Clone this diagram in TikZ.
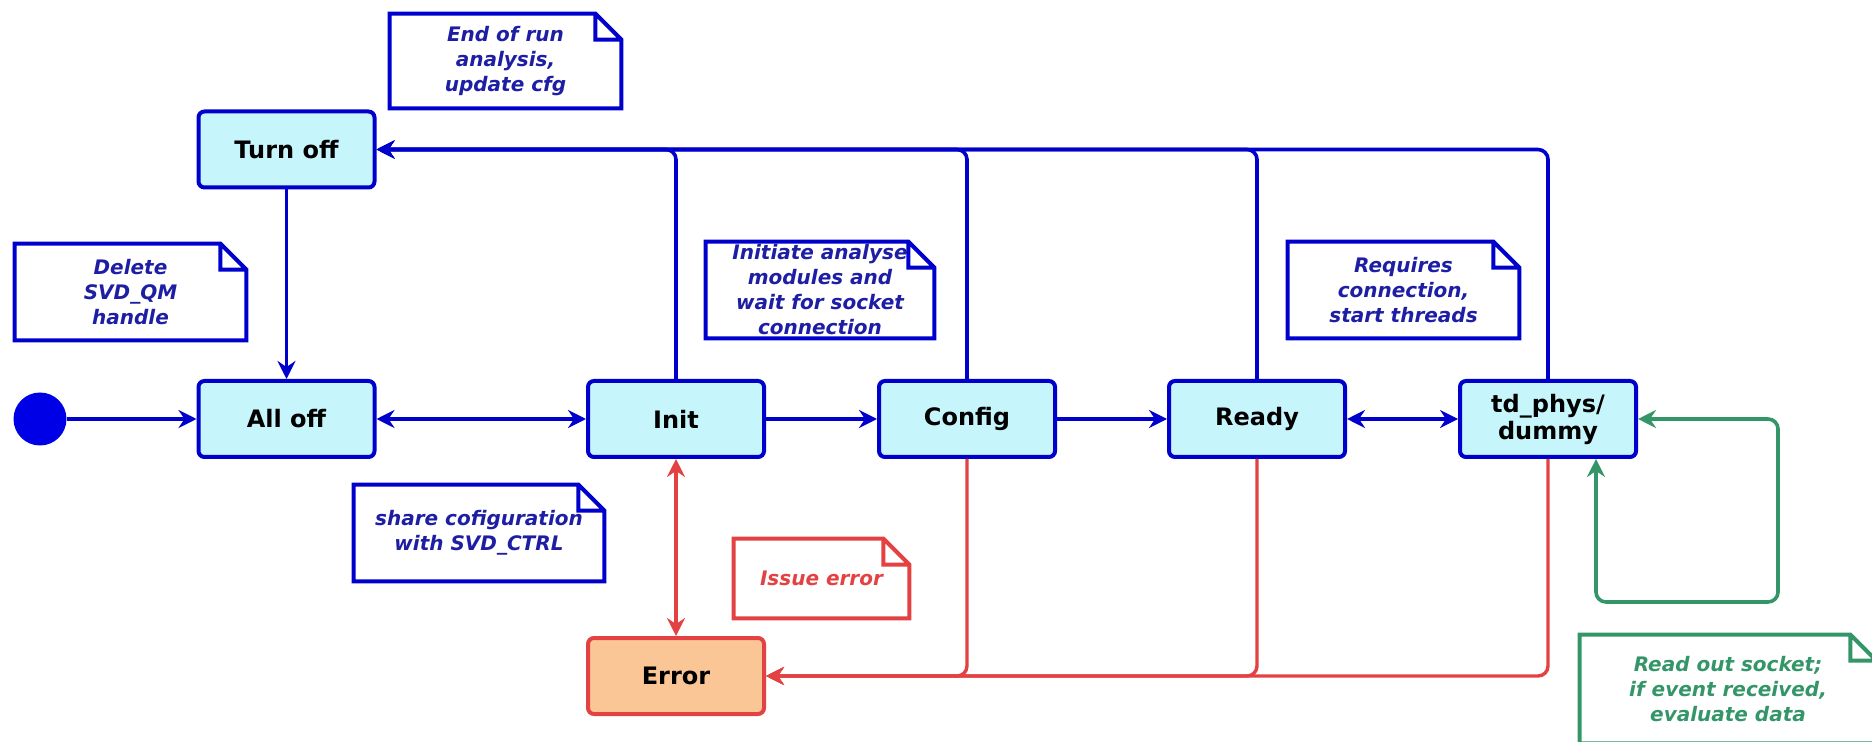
\documentclass[tikz,border=0pt]{standalone}
\usepackage{fontspec}
\setmainfont{DejaVu Sans}
\usetikzlibrary{arrows.meta,calc}

\definecolor{stblue}{RGB}{0,0,204}
\definecolor{startblue}{RGB}{0,0,230}
\definecolor{notetext}{RGB}{30,30,165}
\definecolor{stfill}{RGB}{198,246,252}
\definecolor{errfill}{RGB}{250,198,150}
\definecolor{stred}{RGB}{228,66,66}
\definecolor{stgreen}{RGB}{52,150,104}

\def\foldsz{13pt}
% note outline with a folded top-right corner, drawn round a named node
\newcommand\notefold[2]{%
  \draw[noteline,#2] (#1.north west) -- ([xshift=-\foldsz]#1.north east)
    -- ([yshift=-\foldsz]#1.north east) -- (#1.south east) -- (#1.south west) -- cycle
    ([xshift=-\foldsz]#1.north east) |- ([yshift=-\foldsz]#1.north east);}

\tikzset{
  sttip/.tip={Stealth[length=9pt,width=9pt,inset=3pt]},
  state/.style={draw=stblue, line width=2pt, fill=stfill, rounded corners=3pt,
    minimum width=88pt, minimum height=38pt, inner sep=0pt, align=center,
    font=\fontsize{12}{13.5}\selectfont\bfseries},
  errstate/.style={state, draw=stred, fill=errfill},
  flow/.style={draw=stblue, line width=1.8pt, -sttip, rounded corners=5pt},
  errflow/.style={draw=stred, line width=1.7pt, -sttip, rounded corners=5pt},
  loopflow/.style={draw=stgreen, line width=1.8pt, sttip-sttip, rounded corners=5pt},
  note/.style={inner sep=0pt, align=center, text=notetext,
    font=\fontsize{10}{12.5}\selectfont\bfseries\itshape},
  noteline/.style={line width=2pt, line join=miter},
}

\begin{document}
\begin{tikzpicture}[x=0.5pt,y=-0.5pt]
\useasboundingbox (0,0) rectangle (1872,742);
\clip (0,0) rectangle (1872,742);

% states
\node[circle, fill=startblue, inner sep=0pt, minimum size=26.5pt] (start) at (40,419) {};
\node[state] (turnoff) at (286.5,149.5) {Turn off};
\node[state] (alloff) at (286.5,419) {All off};
\node[state] (init) at (676,419) {Init};
\node[state] (config) at (967,419) {Config};
\node[state] (ready) at (1257,419) {Ready};
\node[state] (td) at (1548,419) {td\_phys/\\dummy};
\node[errstate] (error) at (676,676) {Error};

% notes
\node[note, minimum width=115.5pt, minimum height=47pt] (nEnd) at (505.5,61)
  {End of run\\analysis,\\update cfg};
\notefold{nEnd}{stblue}
\node[note, minimum width=115.5pt, minimum height=48pt] (nDel) at (130.5,292)
  {Delete\\SVD\_QM\\handle};
\notefold{nDel}{stblue}
\node[note, minimum width=114pt, minimum height=48pt] (nInit) at (820,290)
  {Initiate analyse\\modules and\\wait for socket\\connection};
\notefold{nInit}{stblue}
\node[note, minimum width=115.5pt, minimum height=48pt] (nReq) at (1403.5,290)
  {Requires\\connection,\\start threads};
\notefold{nReq}{stblue}
\node[note, minimum width=125pt, minimum height=48pt] (nShare) at (479,533)
  {share cofiguration\\with SVD\_CTRL};
\notefold{nShare}{stblue}
\node[note, text=stred, minimum width=87.5pt, minimum height=39.5pt] (nIssue) at (821.5,578.5)
  {Issue error};
\notefold{nIssue}{stred}
\node[note, text=stgreen, minimum width=148pt, minimum height=54pt] (nRead) at (1728,689)
  {Read out socket;\\if event received,\\evaluate data};
\notefold{nRead}{stgreen}

% main flow
\draw[flow] (start) -- (alloff);
\draw[flow] (turnoff) -- (alloff);
\draw[flow, sttip-sttip] (alloff) -- (init);
\draw[flow] (init) -- (config);
\draw[flow] (config) -- (ready);
\draw[flow, sttip-sttip] (ready) -- (td);

% shutdown returns to Turn off
\draw[flow] (init.north) |- (turnoff.east);
\draw[flow] (config.north) |- (turnoff.east);
\draw[flow] (ready.north) |- (turnoff.east);
\draw[flow] (td.north) |- (turnoff.east);

% error paths
\draw[errflow, sttip-sttip] (init) -- (error);
\draw[errflow] (config.south) |- (error.east);
\draw[errflow] (ready.south) |- (error.east);
\draw[errflow] (td.south) |- (error.east);

% read-out loop
\coordinate (gA) at (1596,602);
\coordinate (gB) at (1778,602);
\draw[loopflow] (gA |- td.south) -- (gA) -- (gB) -- (gB |- td.east) -- (td.east);
\end{tikzpicture}
\end{document}
